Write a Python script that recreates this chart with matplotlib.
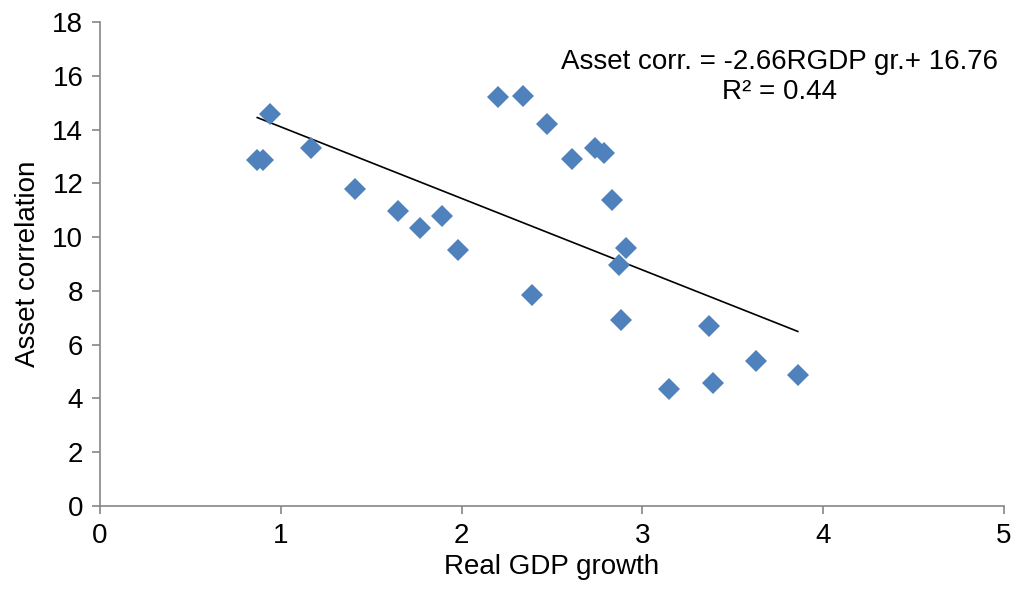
import numpy as np
import matplotlib.pyplot as plt

plt.rcParams["font.family"] = ["Liberation Sans", "DejaVu Sans"]

# ------------------------------------------------------------
# DATA
# ------------------------------------------------------------
gdp_growth = [0.87, 0.90, 0.94, 1.17, 1.41, 1.65, 1.77, 1.89, 1.98,
              2.20, 2.34, 2.47, 2.39, 2.61, 2.74, 2.79, 2.83, 2.91,
              2.87, 2.88, 3.15, 3.37, 3.39, 3.63, 3.86]
asset_corr = [12.87, 12.85, 14.56, 13.31, 11.80, 10.98, 10.33, 10.80, 9.52,
              15.22, 15.25, 14.20, 7.84, 12.90, 13.30, 13.14, 11.37, 9.58,
              8.98, 6.90, 4.34, 6.69, 4.58, 5.38, 4.87]

slope = -2.66
intercept = 16.76
r_squared = 0.44

# ------------------------------------------------------------
# PLOT
# ------------------------------------------------------------
fig = plt.figure(figsize=(10.13, 5.91), dpi=100)
ax = fig.add_axes([0.0987, 0.1438, 0.8923, 0.819])

ax.plot(gdp_growth, asset_corr, linestyle="none", marker="D",
        markersize=11, color="#4F81BD", markeredgewidth=0, zorder=3)

x_fit = np.array([min(gdp_growth), max(gdp_growth)])
ax.plot(x_fit, slope * x_fit + intercept, color="black", linewidth=1.2, zorder=2)

ax.text(3.76, 15.95,
        f"Asset corr. = {slope:.2f}RGDP gr.+ {intercept:.2f}\nR² = {r_squared:.2f}",
        ha="center", va="center", multialignment="center",
        fontsize=20, linespacing=1.2)

ax.set_xlim(0, 5)
ax.set_ylim(0, 18)
ax.set_xticks(range(0, 6))
ax.set_yticks(range(0, 19, 2))

for side in ["top", "right"]:
    ax.spines[side].set_visible(False)
for side in ["left", "bottom"]:
    ax.spines[side].set_color("#868686")
    ax.spines[side].set_linewidth(1.2)
ax.tick_params(direction="out", length=6, width=1.2, color="#868686",
               labelsize=20, pad=6)

ax.set_xlabel("Real GDP growth", fontsize=20, labelpad=4)
ax.set_ylabel("Asset correlation", fontsize=20, labelpad=8)

fig.savefig("out.png", dpi=100)
